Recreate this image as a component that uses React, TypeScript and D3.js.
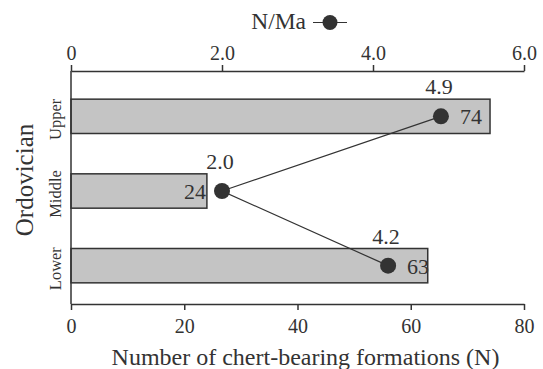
import * as d3 from "d3";
import { useEffect, useRef } from "react";

// Ordovician chert-bearing formations
const categories = ["Upper", "Middle", "Lower"];
const formations = [74, 24, 63]; // N
const rates = [4.9, 2.0, 4.2]; // N/Ma
const rateLabels = ["4.9", "2.0", "4.2"];
const bottomTicks = [0, 20, 40, 60, 80];
const topTicks = [0, 2, 4, 6];

const W = 543;
const H = 369;
const FONT = "Liberation Serif, serif";
const INK = "#333";

export default function App() {
  const ref = useRef<SVGSVGElement>(null);

  const left = 71;
  const right = 524;
  const topY = 71;
  const bottomY = 304;

  const x = d3.scaleLinear().domain([0, 80]).range([left, right]);
  const xRate = d3.scaleLinear().domain([0, 6]).range([left, right]);
  const y = d3
    .scaleBand()
    .domain(categories)
    .range([79, 303])
    .paddingInner(0.54)
    .paddingOuter(0.27);
  const cy = (c: string) => (y(c) ?? 0) + y.bandwidth() / 2;

  const line = d3
    .line<number>()
    .x((d) => xRate(rates[d]))
    .y((d) => cy(categories[d]));

  useEffect(() => {
    const svg = d3.select(ref.current);
    svg.selectAll("g.axis").remove();

    // bottom axis
    const gb = svg
      .append("g")
      .attr("class", "axis")
      .attr("transform", `translate(0,${bottomY})`)
      .call(
        d3
          .axisBottom(x)
          .tickValues(bottomTicks)
          .tickSize(6)
          .tickSizeOuter(0)
          .tickPadding(9)
          .tickFormat((d) => String(d))
      );

    // top axis
    const gt = svg
      .append("g")
      .attr("class", "axis")
      .attr("transform", `translate(0,${topY})`)
      .call(
        d3
          .axisTop(xRate)
          .tickValues(topTicks)
          .tickSize(6)
          .tickSizeOuter(0)
          .tickPadding(5)
          .tickFormat((d) => (+d === 0 ? "0" : (+d).toFixed(1)))
      );

    [gb, gt].forEach((g) => {
      g.attr("font-family", FONT).attr("font-size", 20);
      g.select(".domain").attr("stroke", INK).attr("stroke-width", 1.5);
      g.selectAll(".tick line").attr("stroke", INK).attr("stroke-width", 1.5);
      g.selectAll(".tick text")
        .attr("fill", INK)
        .style("font-family", FONT)
        .style("font-size", "20px");
    });
  }, []);

  const txt = { fontFamily: FONT };

  return (
    <svg
      ref={ref}
      width={W}
      height={H}
      style={{ position: "absolute", left: 0, top: 0, background: "#fff", fontFamily: FONT }}
    >
      {/* bars */}
      {categories.map((c, i) => (
        <rect
          key={c}
          x={x(0)}
          y={y(c)}
          width={x(formations[i]) - x(0)}
          height={y.bandwidth()}
          fill="#c4c4c4"
          stroke={INK}
          strokeWidth={1.5}
        />
      ))}

      {/* left axis line */}
      <line x1={left} x2={left} y1={topY} y2={bottomY} stroke={INK} strokeWidth={1.5} />

      {/* N/Ma line */}
      <path d={line(categories.map((_, i) => i)) ?? ""} fill="none" stroke={INK} strokeWidth={1.2} />
      {categories.map((c, i) => (
        <circle key={c} cx={xRate(rates[i])} cy={cy(c)} r={8} fill={INK} />
      ))}

      {/* N/Ma labels */}
      {categories.map((c, i) => (
        <text
          key={c}
          x={xRate(rates[i]) - 2}
          y={cy(c) - 22}
          textAnchor="middle"
          fontSize={22}
          fill={INK}
          style={txt}
        >
          {rateLabels[i]}
        </text>
      ))}

      {/* N labels */}
      {categories.map((c, i) => {
        const onLeft = formations[i] < 40;
        return (
          <text
            key={c}
            x={xRate(rates[i]) + (onLeft ? -16 : 19)}
            y={cy(c) + 8}
            textAnchor={onLeft ? "end" : "start"}
            fontSize={22}
            fill={INK}
            style={txt}
          >
            {formations[i]}
          </text>
        );
      })}

      {/* category labels */}
      {categories.map((c) => (
        <text
          key={c}
          transform={`translate(61,${cy(c) + 3}) rotate(-90)`}
          textAnchor="middle"
          fontSize={16.5}
          fill={INK}
          style={txt}
        >
          {c}
        </text>
      ))}
      <text
        transform="translate(33,180) rotate(-90)"
        textAnchor="middle"
        fontSize={25}
        fill={INK}
        style={txt}
      >
        Ordovician
      </text>

      {/* bottom title */}
      <text x={305.5} y={365} textAnchor="middle" fontSize={24} fill={INK} style={txt}>
        Number of chert-bearing formations (N)
      </text>

      {/* legend */}
      <text x={306} y={28.5} textAnchor="end" fontSize={23.5} fill={INK} style={txt}>
        N/Ma
      </text>
      <line x1={313} x2={347} y1={22.5} y2={22.5} stroke={INK} strokeWidth={1.2} />
      <circle cx={330} cy={22.5} r={7.5} fill={INK} />
    </svg>
  );
}
